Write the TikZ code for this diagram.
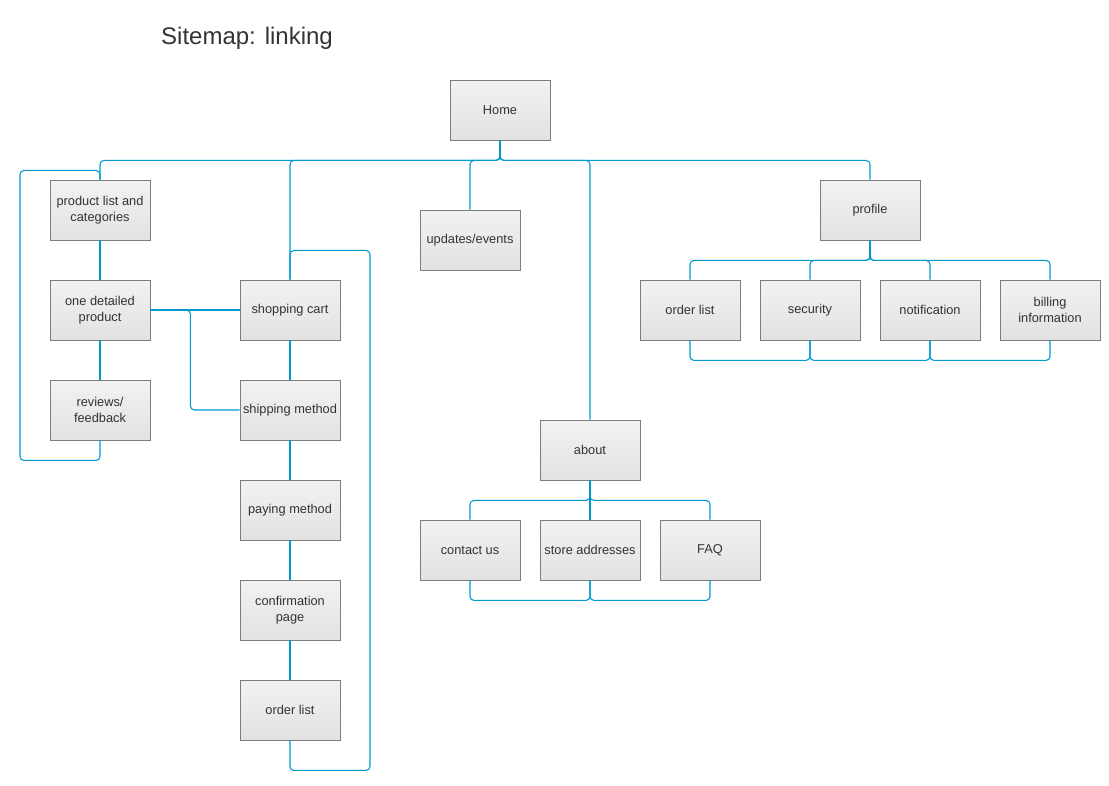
\documentclass[tikz,border=0pt]{standalone}
\usepackage{fontspec}
\setmainfont{Liberation Sans}
\definecolor{linkc}{RGB}{0,153,204}
\definecolor{boxline}{RGB}{125,125,125}
\definecolor{txt}{RGB}{51,51,51}
\definecolor{boxtop}{RGB}{242,242,242}
\definecolor{boxbot}{RGB}{226,226,226}
\tikzset{
  page/.style={draw=boxline, line width=0.65pt, top color=boxtop, bottom color=boxbot,
    minimum width=75pt, minimum height=45pt, inner sep=1pt, align=center,
    font=\fontsize{9.6}{12}\selectfont, text=txt},
  link/.style={draw=linkc, line width=0.8pt, rounded corners=3pt},
  title/.style={font=\fontsize{18}{22}\selectfont, text=txt, inner sep=0pt}
}
\begin{document}
\begin{tikzpicture}[x=0.75pt,y=-0.75pt]
\useasboundingbox (0,0) rectangle (1109,785);
\node[title] (title) at (247,38) {Sitemap: linking};
% nodes
\node[page] (home) at (500,110) {Home};
\node[page] (plc) at (100,210) {product list and\\categories};
\node[page] (odp) at (100,310) {one detailed\\product};
\node[page] (rev) at (100,410) {reviews/\\feedback};
\node[page] (cart) at (290,310) {shopping cart};
\node[page] (ship) at (290,410) {shipping method};
\node[page] (pay) at (290,510) {paying method};
\node[page] (conf) at (290,610) {confirmation\\page};
\node[page] (olA) at (290,710) {order list};
\node[page] (upd) at (470,240) {updates/events};
\node[page] (about) at (590,450) {about};
\node[page] (cu) at (470,550) {contact us};
\node[page] (sa) at (590,550) {store addresses};
\node[page] (faq) at (710,550) {FAQ};
\node[page] (prof) at (870,210) {profile};
\node[page] (olB) at (690,310) {order list};
\node[page] (sec) at (810,310) {security};
\node[page] (noti) at (930,310) {notification};
\node[page] (bill) at (1050,310) {billing\\information};
% home branches
\draw[link] (home.south) -- ++(0,20) -| (plc.north);
\draw[link] (home.south) -- ++(0,20) -| (cart.north);
\draw[link] (home.south) -- ++(0,20) -| (upd.north);
\draw[link] (home.south) -- ++(0,20) -| (about.north);
\draw[link] (home.south) -- ++(0,20) -| (prof.north);
% left column
\draw[link] (plc.south) -- (odp.north);
\draw[link] (odp.south) -- (rev.north);
\draw[link] (rev.south) -- ++(0,20) -- ++(-80,0) -- ++(0,-290) -| (plc.north);
% product to cart
\draw[link] (odp.east) -- (cart.west);
\draw[link] (odp.east) -- ++(40,0) |- (ship.west);
% checkout chain
\draw[link] (cart.south) -- (ship.north);
\draw[link] (ship.south) -- (pay.north);
\draw[link] (pay.south) -- (conf.north);
\draw[link] (conf.south) -- (olA.north);
\draw[link] (olA.south) -- ++(0,30) -- ++(80,0) -- ++(0,-520) -| (cart.north);
% profile
\draw[link] (prof.south) -- ++(0,20) -| (olB.north);
\draw[link] (prof.south) -- ++(0,20) -| (sec.north);
\draw[link] (prof.south) -- ++(0,20) -| (noti.north);
\draw[link] (prof.south) -- ++(0,20) -| (bill.north);
\draw[link] (olB.south) -- ++(0,20) -| (sec.south);
\draw[link] (sec.south) -- ++(0,20) -| (noti.south);
\draw[link] (noti.south) -- ++(0,20) -| (bill.south);
% about
\draw[link] (about.south) -- ++(0,20) -| (cu.north);
\draw[link] (about.south) -- (sa.north);
\draw[link] (about.south) -- ++(0,20) -| (faq.north);
\draw[link] (cu.south) -- ++(0,20) -| (sa.south);
\draw[link] (sa.south) -- ++(0,20) -| (faq.south);
\end{tikzpicture}
\end{document}
